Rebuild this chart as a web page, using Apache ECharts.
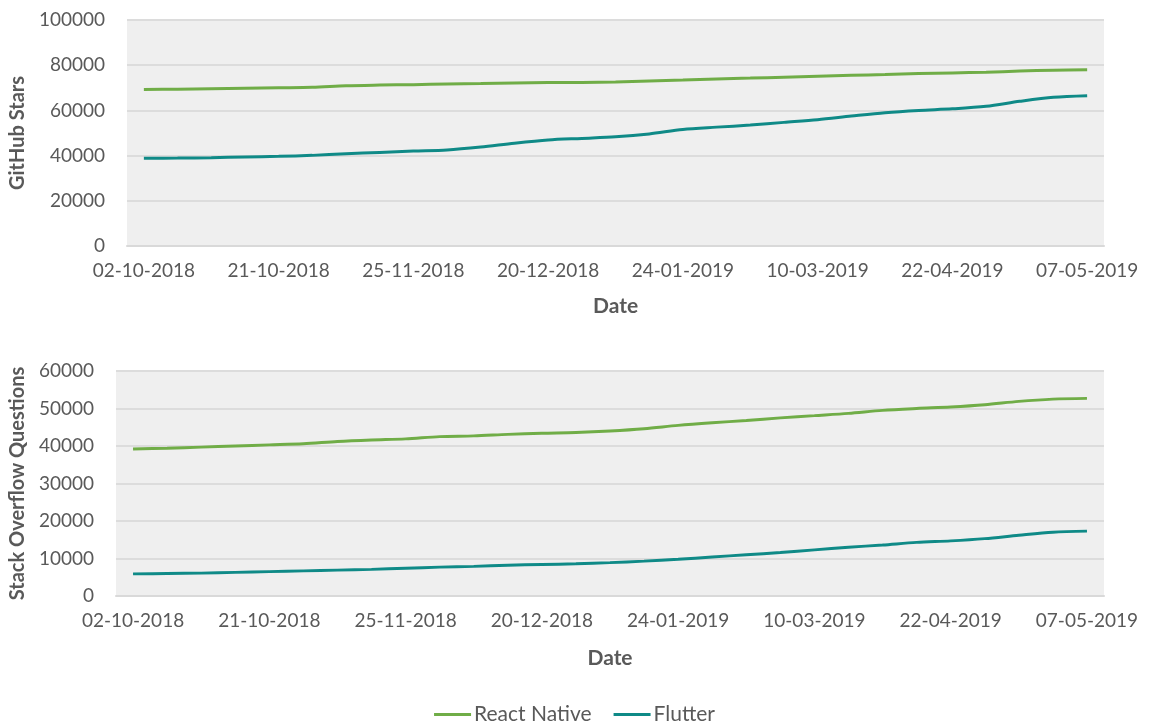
<!DOCTYPE html>
<html>
<head>
<meta charset="utf-8">
<script src="https://cdn.jsdelivr.net/npm/echarts@6/dist/echarts.min.js"></script>
<style>
html,body{margin:0;padding:0;background:#fff;}
#chart{width:1149px;height:722px;}
</style>
</head>
<body>
<div id="chart"></div>
<script>
const categories = [
  '02-10-2018','07-10-2018','12-10-2018','17-10-2018','21-10-2018','30-10-2018','08-11-2018','17-11-2018',
  '25-11-2018','01-12-2018','07-12-2018','14-12-2018','20-12-2018','29-12-2018','07-01-2019','16-01-2019',
  '24-01-2019','04-02-2019','15-02-2019','26-02-2019','10-03-2019','20-03-2019','31-03-2019','11-04-2019',
  '22-04-2019','26-04-2019','30-04-2019','03-05-2019','07-05-2019'
];
const reactStars = [69300,69400,69600,69800,70000,70200,70900,71200,71400,71700,71900,72100,72300,72400,72600,
  73000,73400,73900,74300,74700,75100,75500,75900,76300,76600,76900,77400,77800,78000];
const flutterStars = [38800,38900,39100,39400,39700,40100,40800,41400,42000,42500,43800,45500,46900,47600,48300,
  49600,51600,52600,53500,54700,55900,57500,59000,60000,60700,61800,64000,65800,66500];
const reactQuestions = [39200,39400,39700,40000,40300,40600,41200,41600,41900,42500,42700,43100,43400,43600,44000,
  44600,45500,46200,46800,47500,48100,48700,49500,50000,50400,51000,51900,52500,52700];
const flutterQuestions = [5900,6000,6100,6300,6500,6700,6900,7100,7400,7700,7900,8200,8400,8600,8900,
  9300,9800,10400,11000,11600,12300,13000,13600,14300,14700,15300,16200,17000,17300];
const seriesNames = ['React Native','Flutter'];
const colors = ['#70AD47','#0F8A87'];

const FONT = 'Lato';
const TXT = '#595959';
const chart = echarts.init(document.getElementById('chart'));

function xAxis(idx,gap){
  return {
    type:'category', gridIndex:idx, data:categories, boundaryGap:true,
    name:'Date', nameLocation:'middle', nameGap:gap,
    nameTextStyle:{fontFamily:FONT,fontSize:21,fontWeight:'bold',color:TXT},
    axisLine:{show:true,lineStyle:{color:'#D9D9D9',width:2}},
    axisTick:{show:false},
    axisLabel:{interval:3,fontFamily:FONT,fontSize:19,color:TXT,margin:15},
    splitLine:{show:false}
  };
}
function yAxis(idx,name,max,interval,gap,nameSize){
  return {
    type:'value', gridIndex:idx, min:0, max:max, interval:interval,
    name:name, nameLocation:'middle', nameGap:gap,
    nameTextStyle:{fontFamily:FONT,fontSize:nameSize,fontWeight:'bold',color:TXT},
    axisLine:{show:false}, axisTick:{show:false},
    axisLabel:{fontFamily:FONT,fontSize:19,color:TXT,margin:22,formatter:function(v){return String(v);}},
    splitLine:{show:true,lineStyle:{color:'#DCDCDC',width:2}}
  };
}
function line(name,data,color,idx){
  return {
    name:name, type:'line', data:data, xAxisIndex:idx, yAxisIndex:idx,
    smooth:0.3, symbol:'none', showSymbol:false,
    lineStyle:{color:color,width:3}, itemStyle:{color:color}
  };
}

chart.setOption({
  animation:false,
  backgroundColor:'#ffffff',
  textStyle:{fontFamily:FONT},
  grid:[
    {left:126,right:45,top:20,height:226,show:true,backgroundColor:'#EFEFEF',borderWidth:0},
    {left:116,right:45,top:371,height:225,show:true,backgroundColor:'#EFEFEF',borderWidth:0}
  ],
  legend:{
    data:seriesNames.map(function(n){return {name:n,icon:'rect'};}),
    top:699, left:'center', itemWidth:37, itemHeight:3, itemGap:22,
    textStyle:{fontFamily:FONT,fontSize:21,color:TXT,padding:[0,0,0,-2]}
  },
  xAxis:[xAxis(0,50),xAxis(1,52)],
  yAxis:[yAxis(0,'GitHub Stars',100000,20000,97,20), yAxis(1,'Stack Overflow Questions',60000,10000,86,20)],
  series:[
    line(seriesNames[0],reactStars,colors[0],0),
    line(seriesNames[1],flutterStars,colors[1],0),
    line(seriesNames[0],reactQuestions,colors[0],1),
    line(seriesNames[1],flutterQuestions,colors[1],1)
  ]
});
</script>
</body>
</html>
